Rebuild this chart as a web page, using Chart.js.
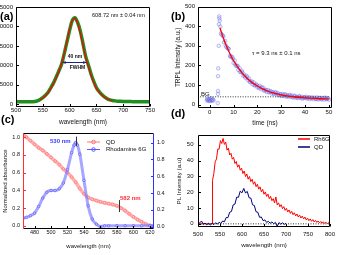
<!DOCTYPE html>
<html>
<head>
<meta charset="utf-8">
<script src="https://cdn.jsdelivr.net/npm/chart.js@4.4.1/dist/chart.umd.min.js"></script>
<style>
  body { margin: 0; background: #fff; }
  #wrap { position: relative; width: 339px; height: 255px; overflow: hidden; font-family: "Liberation Sans", Arial, sans-serif; }
  canvas { position: absolute; }
  .tag { position: absolute; font-size: 11px; font-weight: bold; line-height: 11px; color: #000; }
</style>
</head>
<body>
<div id="wrap">
  <canvas id="pa" width="170" height="127" style="left:0;top:0"></canvas>
  <canvas id="pb" width="169" height="127" style="left:170px;top:0"></canvas>
  <canvas id="pc" width="170" height="128" style="left:0;top:127px"></canvas>
  <canvas id="pd" width="169" height="128" style="left:170px;top:127px"></canvas>
  <div class="tag" style="left:0;top:11px">(a)</div>
  <div class="tag" style="left:171px;top:11px">(b)</div>
  <div class="tag" style="left:1px;top:114px">(c)</div>
  <div class="tag" style="left:171px;top:108px">(d)</div>
</div>
<script>
// (a) steady-state PL of the QDs
var emWave = [500, 505, 510, 515, 520, 525, 530, 535, 540, 545, 550, 555, 560, 565, 570, 575, 580, 585, 590, 595,
  600, 605, 610, 615, 620, 625, 630, 635, 640, 645, 650, 655, 660, 665, 670, 675, 680, 685, 690, 695,
  700, 705, 710, 715, 720, 725, 730, 735, 740, 745, 750];
var emCounts = [650, 650, 650, 650, 660, 670, 680, 720, 900, 1250, 1700, 2300, 3100, 4250, 5500, 7000, 8600, 10300, 13000, 16000,
  19000, 21500, 22200, 21000, 18800, 15600, 12300, 10100, 7800, 5900, 4300, 3300, 2500, 1900, 1450, 1150, 980, 880, 810, 770,
  740, 720, 700, 690, 680, 670, 660, 655, 650, 645, 640];
var emFitWave = [545, 550, 555, 560, 565, 570, 575, 580, 585, 590, 595, 600, 605, 610, 615, 620, 625, 630, 635, 640,
  645, 650, 655, 660, 665, 670, 675, 680];
var emFit = [1150, 1600, 2200, 3000, 4100, 5350, 6850, 8500, 10400, 13100, 16200, 19200, 21500, 22100, 20800, 18300, 15100, 12000, 9700, 7500,
  5600, 4100, 3100, 2350, 1800, 1400, 1120, 960];
var fwhmRange = [587, 631];
var fwhmLevel = 10900;
var aTicksX = [500, 550, 600, 650, 700, 750];
var aTicksY = [0, 5000, 10000, 15000, 20000, 25000];

// (b) time resolved PL
var trplTime = [-1.2, -1.0, -0.8, -0.6, -0.4, -0.2, 0.0, 0.2, 0.4, 0.6, 0.8, 1.0, 1.2, 1.4, 1.6,
  3.4, 3.5, 3.5, 3.5, 3.6, 3.8, 3.9, 4.0, 4.1, 4.2,
  4.5, 5.0, 5.5, 6.0, 6.5, 7.0, 7.5, 8.0, 8.5, 9.0, 9.5, 10.0,
  10.5, 11.0, 11.5, 12.0, 12.5, 13.0, 13.5, 14.0, 14.5, 15.0, 15.5, 16.0,
  16.5, 17.0, 17.5, 18.0, 18.5, 19.0, 19.5, 20.0, 20.5, 21.0, 21.5, 22.0,
  22.5, 23.0, 23.5, 24.0, 24.5, 25.0, 25.5, 26.0, 26.5, 27.0, 27.5, 28.0,
  28.5, 29.0, 29.5, 30.0, 30.5, 31.0, 31.5, 32.0, 32.5, 33.0, 33.5, 34.0,
  34.5, 35.0, 35.5, 36.0, 36.5, 37.0, 37.5, 38.0, 38.5, 39.0, 39.5, 40.0,
  40.5, 41.0, 41.5, 42.0, 42.5, 43.0, 43.5, 44.0, 44.5, 45.0, 45.5, 46.0,
  46.5, 47.0, 47.5, 48.0, 48.5, 49.0, 49.5, 50.0];
var trplCounts = [22, 30, 25, 19, 27, 21, 28, 18, 24, 32, 20, 26, 23, 27, 21,
  8, 55, 70, 145, 185, 300, 410, 450, 440, 428,
  398, 357, 352, 318, 325, 294, 289, 284, 249, 245, 243, 213,
  225, 198, 197, 177, 186, 167, 172, 148, 153, 137, 147, 126,
  133, 114, 118, 103, 113, 100, 104, 88, 92, 96, 79, 86,
  86, 71, 75, 64, 75, 66, 69, 56, 64, 55, 64, 53,
  60, 49, 53, 44, 54, 48, 53, 41, 48, 40, 49, 40,
  46, 36, 46, 36, 40, 33, 43, 35, 40, 31, 38, 34,
  40, 31, 37, 28, 35, 37, 28, 35, 29, 37, 26, 33,
  35, 27, 34, 26, 36, 28, 33, 25];
var trplTime2 = [4.75, 5.75, 6.75, 7.75, 8.75, 9.75, 10.75, 11.75, 12.75, 13.75, 14.75, 15.75, 16.75, 17.75, 18.75, 19.75,
  20.75, 21.75, 22.75, 23.75, 24.75, 25.75, 26.75, 27.75, 28.75, 29.75, 30.75, 31.75, 32.75, 33.75, 34.75, 35.75,
  36.75, 37.75, 38.75, 39.75, 40.75, 41.75, 42.75, 43.75, 44.75, 45.75, 46.75, 47.75, 48.75, 49.75];
var trplCounts2 = [363, 348, 302, 286, 245, 234, 206, 197, 167, 164, 144, 139, 118, 117, 98, 99,
  85, 88, 74, 74, 63, 66, 58, 60, 50, 53, 45, 50, 44, 47, 39, 43,
  37, 41, 33, 38, 34, 37, 32, 35, 29, 34, 29, 34, 30, 32];
var trplFitTime = [4.3, 5, 6, 7, 8, 9, 10, 12, 14, 16, 18, 20, 22, 24, 26, 28, 30, 33, 36, 40, 44, 48, 50];
var trplFit = [392, 366, 331, 300, 272, 247, 225, 187, 156, 131, 111, 95, 82, 71, 62, 56, 50, 44, 39, 35, 32, 30, 30];
var bgTime = [-4, 50];
var bgLevel = [40, 40];
var bTicksX = [0, 10, 20, 30, 40, 50];
var bTicksY = [0, 100, 200, 300, 400, 500];

// (c) normalized absorbance
var absWave = [466, 470, 475, 480, 485, 490, 495, 500, 505, 510, 515, 520, 525, 530, 535, 540, 545, 550, 555, 560,
  565, 570, 575, 580, 585, 590, 595, 600, 605, 610, 615, 620, 625];
var absQD = [1.03, 1.00, 0.96, 0.92, 0.88, 0.85, 0.81, 0.77, 0.73, 0.69, 0.64, 0.60, 0.55, 0.49, 0.42, 0.36, 0.32, 0.30, 0.285, 0.27,
  0.26, 0.25, 0.24, 0.225, 0.20, 0.17, 0.135, 0.10, 0.07, 0.045, 0.02, 0.005, 0.0];
var rhWave = [466, 470, 475, 480, 485, 490, 495, 500, 505, 510, 515, 520, 525, 528, 530, 532, 535, 540, 545, 550,
  555, 560, 565, 570, 580, 590, 600, 610, 620, 625];
var absRh = [0.10, 0.11, 0.13, 0.16, 0.24, 0.34, 0.41, 0.43, 0.43, 0.45, 0.52, 0.68, 0.88, 0.97, 1.0, 0.97, 0.86, 0.55, 0.25, 0.09,
  0.03, 0.0, 0.01, 0.01, 0.01, 0.01, 0.01, 0.01, 0.01, 0.01];
var cTicksX = [480, 500, 520, 540, 560, 580, 600, 620];
var cTicksY = [0, 0.2, 0.4, 0.6, 0.8, 1.0];

// (d) PL of Rh6G and QD
var plRhWave = [500, 510, 520, 530, 532,
  533, 536, 539, 542, 545, 548, 551, 554, 557, 560, 563, 566, 569, 572, 575, 578, 581, 584, 587, 590,
  593, 596, 599, 602, 605, 608, 611, 614, 617, 620, 623, 626, 629, 632, 635, 638, 641, 644, 647, 650,
  653, 656, 659, 662, 665, 668, 671, 674, 677, 680, 683, 686, 689, 692, 695, 698, 701, 704, 707, 710,
  713, 716, 719, 722, 725, 728, 731, 734, 737, 740, 743, 746, 749, 752, 755, 758, 761, 764, 767, 770,
  773, 776, 779, 782, 785, 788, 791, 794, 797, 800];
var plRh = [0, 0, 0, 0, 0.2,
  27.5, 31.8, 39.2, 41.0, 47.3, 47.2, 52.6, 50.8, 54.0, 50.2, 51.7, 46.6, 47.9, 43.5, 44.6, 40.9, 42.0, 38.1, 39.4, 35.8,
  37.3, 33.9, 35.2, 31.8, 33.4, 29.9, 31.5, 28.2, 29.9, 26.7, 28.2, 25.0, 26.6, 23.5, 25.0, 21.9, 23.4, 20.3, 21.8, 18.7,
  20.2, 17.3, 18.8, 15.9, 17.4, 14.6, 15.9, 13.2, 17.0, 12.0, 13.3, 10.8, 12.1, 9.6, 10.9, 8.5, 9.8, 7.5, 8.8, 6.6,
  7.9, 5.8, 7.0, 5.0, 6.2, 4.3, 5.5, 3.7, 4.9, 3.1, 4.3, 2.5, 3.6, 2.0, 3.1, 1.6, 2.7, 1.2, 2.2, 0.9,
  1.8, 0.6, 1.5, 0.4, 1.3, 0.2, 1.0, 0.1, 0.8, 0.2];
var plQDWave = [500, 504, 508, 512, 516, 520, 524, 528, 532, 536, 540, 544, 548, 552, 556, 560, 564, 568, 572, 576,
  580, 584, 588, 592, 596, 600, 604, 608, 612, 616, 620, 624, 628, 632, 636, 640, 644, 648, 652, 656,
  660, 664, 668, 672, 676, 680, 684, 688, 692, 696, 700];
var plQD = [-0.4, 0.6, 1.8, -0.3, 0.5, -0.6, 0.4, -0.8, 0.3, -0.5, 0.7, -0.2, 1.0, 0.2, 1.8, 1.3, 4.0, 3.9, 7.3, 7.8,
  12.0, 12.5, 16.9, 16.8, 20.7, 19.6, 22.4, 19.5, 20.5, 16.5, 16.3, 12.0, 11.6, 7.6, 7.3, 4.1, 4.3, 2.0, 2.5, 0.9,
  1.6, 0.4, 1.2, 0.1, 0.9, -1.6, 0.8, -0.2, 0.6, -0.3, 0.3];
var zeroWave = [500, 800];
var zeroLevel = [0, 0];
var dTicksX = [500, 550, 600, 650, 700, 750, 800];
var dTicksY = [0, 10, 20, 30, 40, 50];

Chart.defaults.font.family = '"Liberation Sans", Arial, sans-serif';
Chart.defaults.color = '#111';

function pts(xs, ys) {
  return xs.map((x, i) => ({ x: x, y: ys[i] }));
}

// fixed-size linear axis with a given tick list
function axis(pos, min, max, ticks, size, o) {
  o = o || {};
  return {
    type: 'linear', position: pos, min: min, max: max,
    afterBuildTicks: s => { s.ticks = ticks.map(v => ({ value: v })); },
    afterFit: s => { if (s.isHorizontal()) s.height = size; else s.width = size; },
    grid: { display: false, drawTicks: false },
    border: { display: false },
    ticks: {
      autoSkip: false, maxRotation: 0, padding: o.pad == null ? 1 : o.pad, color: '#111',
      font: { size: o.fs || 6 }, callback: o.fmt || (v => v)
    },
    title: {
      display: !!o.title, text: o.title || '', color: '#111', font: { size: o.tfs || 6.5 },
      padding: { top: o.tpad || 0, bottom: o.tpad || 0 }
    }
  };
}

// box around the plot with small inward ticks (Origin look)
var framePlugin = {
  id: 'frame',
  afterDatasetsDraw(chart, args, opts) {
    var ctx = chart.ctx, a = chart.chartArea, sc = chart.scales;
    var L = Math.round(a.left) + 0.5, R = Math.round(a.right) - 0.5;
    var T = Math.round(a.top) + 0.5, B = Math.round(a.bottom) - 0.5;
    var seg = (c, x1, y1, x2, y2) => {
      ctx.strokeStyle = c; ctx.beginPath(); ctx.moveTo(x1, y1); ctx.lineTo(x2, y2); ctx.stroke();
    };
    ctx.save();
    ctx.lineWidth = 1;
    seg(opts.top || '#000', L, T, R, T);
    seg(opts.bottom || '#000', L, B, R, B);
    seg(opts.left || '#000', L, T, L, B);
    seg(opts.right || '#000', R, T, R, B);
    sc.x.ticks.forEach(t => {
      var p = Math.round(sc.x.getPixelForValue(t.value)) + 0.5;
      seg(opts.bottom || '#000', p, B, p, B - 2.5);
    });
    sc.y.ticks.forEach(t => {
      var p = Math.round(sc.y.getPixelForValue(t.value)) + 0.5;
      seg(opts.left || '#000', L, p, L + 2.5, p);
    });
    if (sc.y2) sc.y2.ticks.forEach(t => {
      var p = Math.round(sc.y2.getPixelForValue(t.value)) + 0.5;
      seg(opts.right || '#000', R, p, R - 2.5, p);
    });
    ctx.restore();
  }
};

function base(padding, scales, frame) {
  return {
    responsive: false, animation: false, devicePixelRatio: 1,
    layout: { padding: padding },
    plugins: { legend: { display: false }, tooltip: { enabled: false }, frame: frame || {} },
    scales: scales
  };
}

function font(size, bold) {
  return (bold ? 'bold ' : '') + size + 'px "Liberation Sans", Arial, sans-serif';
}

// ---------- (a) ----------
new Chart(document.getElementById('pa'), {
  type: 'line',
  data: {
    datasets: [
      { data: pts(emFitWave, emFit), borderColor: '#ff0000', borderWidth: 1.2, pointRadius: 0, cubicInterpolationMode: 'monotone', order: 0 },
      { data: pts(emWave, emCounts), borderColor: '#1f8f1f', borderWidth: 3.5, pointRadius: 0, cubicInterpolationMode: 'monotone', order: 1 }
    ]
  },
  options: base({ top: 6, right: 20, left: 0, bottom: 0 }, {
    x: axis('bottom', 500, 750, aTicksX, 20, { pad: 0, title: 'wavelength (nm)', tpad: 1 }),
    y: axis('left', -690, 25080, aTicksY, 16, { pad: 3 })
  }),
  plugins: [framePlugin, {
    id: 'notesA',
    afterDraw(chart) {
      var ctx = chart.ctx, x = chart.scales.x, y = chart.scales.y;
      ctx.save();
      ctx.fillStyle = '#111';
      ctx.textBaseline = 'middle';
      ctx.font = font(5.6);
      ctx.fillText('608.72 nm \u00b1 0.04 nm', 92, 15);
      var yy = Math.round(y.getPixelForValue(fwhmLevel)) + 0.5;
      var x1 = x.getPixelForValue(fwhmRange[0]), x2 = x.getPixelForValue(fwhmRange[1]);
      ctx.strokeStyle = '#1a237e'; ctx.fillStyle = '#1a237e'; ctx.lineWidth = 1;
      ctx.beginPath(); ctx.moveTo(x1, yy); ctx.lineTo(x2, yy); ctx.stroke();
      ctx.beginPath(); ctx.moveTo(x1, yy); ctx.lineTo(x1 + 3, yy - 1.6); ctx.lineTo(x1 + 3, yy + 1.6); ctx.fill();
      ctx.beginPath(); ctx.moveTo(x2, yy); ctx.lineTo(x2 - 3, yy - 1.6); ctx.lineTo(x2 - 3, yy + 1.6); ctx.fill();
      ctx.fillStyle = '#111'; ctx.textAlign = 'center'; ctx.font = font(5, true);
      ctx.fillText('40 nm', 75, 56.5);
      ctx.fillText('FWHM', 77.5, 67.5);
      ctx.restore();
    }
  }]
});

// ---------- (b) ----------
new Chart(document.getElementById('pb'), {
  type: 'scatter',
  data: {
    datasets: [
      { type: 'line', data: pts(trplFitTime, trplFit), borderColor: '#ff0000', borderWidth: 1.3, pointRadius: 0, cubicInterpolationMode: 'monotone', order: 0 },
      { type: 'line', data: pts(bgTime, bgLevel), borderColor: '#333', borderWidth: 1, borderDash: [1, 1.5], pointRadius: 0, order: 1 },
      { data: pts(trplTime, trplCounts), pointRadius: 1.8, borderWidth: 0.7, borderColor: 'rgba(95,95,225,0.55)', backgroundColor: 'rgba(170,170,245,0.2)', order: 2 },
      { data: pts(trplTime2, trplCounts2), pointRadius: 1.8, borderWidth: 0.7, borderColor: 'rgba(95,95,225,0.55)', backgroundColor: 'rgba(170,170,245,0.2)', order: 3 }
    ]
  },
  options: base({ top: 6, right: 7, left: 0, bottom: 0 }, {
    x: axis('bottom', -4.9, 51.3, bTicksX, 19, { pad: 1, title: 'time (ns)', tpad: 0 }),
    y: axis('left', -17, 500, bTicksY, 28, { pad: 3, title: 'TRPL Intensity (a.u.)', tpad: 4 })
  }),
  plugins: [framePlugin, {
    id: 'notesB',
    afterDraw(chart) {
      var ctx = chart.ctx;
      ctx.save();
      ctx.fillStyle = '#111';
      ctx.textBaseline = 'middle';
      ctx.font = font(6);
      ctx.fillText('\u03c4 = 9.3 ns \u00b1 0.1 ns', 82, 53);
      ctx.fillText('BG', 31, 94);
      ctx.restore();
    }
  }]
});

// ---------- (c) ----------
new Chart(document.getElementById('pc'), {
  type: 'line',
  data: {
    datasets: [
      { data: pts(absWave, absQD), yAxisID: 'y', borderColor: 'rgba(255,150,150,0.75)', borderWidth: 3.5,
        pointRadius: 1.4, pointBorderWidth: 0.7, pointBorderColor: '#ff6f6f', pointBackgroundColor: 'rgba(255,220,220,0.5)',
        cubicInterpolationMode: 'monotone', order: 1 },
      { data: pts(rhWave, absRh), yAxisID: 'y2', borderColor: 'rgba(120,120,255,0.65)', borderWidth: 3,
        pointRadius: 1.3, pointBorderWidth: 0.7, pointBorderColor: '#5a5aff', pointBackgroundColor: 'rgba(220,220,255,0.5)',
        cubicInterpolationMode: 'monotone', order: 0 }
    ]
  },
  options: base({ top: 6, right: 0, left: 0, bottom: 0 }, {
    x: axis('bottom', 466, 625, cTicksX, 26, { pad: 0, fs: 5.5, title: 'wavelength (nm)', tfs: 6, tpad: 5 }),
    y: axis('left', -0.036, 1.043, cTicksY, 23, { pad: 3, fs: 5.5, fmt: v => v.toFixed(1), title: 'Normalized absorbance', tfs: 6, tpad: 2 }),
    y2: axis('right', -0.028, 1.11, cTicksY, 16, { pad: 3, fs: 5.5, fmt: v => v.toFixed(1) })
  }, { left: '#ff3030', right: '#3030ff', top: '#000', bottom: '#000' }),
  plugins: [framePlugin, {
    id: 'notesC',
    afterDraw(chart) {
      var ctx = chart.ctx, x = chart.scales.x, y = chart.scales.y, y2 = chart.scales.y2;
      ctx.save();
      ctx.lineWidth = 1;
      ctx.strokeStyle = '#333';
      var p = Math.round(x.getPixelForValue(530)) + 0.5;
      ctx.beginPath(); ctx.moveTo(p, y2.getPixelForValue(1.07)); ctx.lineTo(p, y2.getPixelForValue(0.96)); ctx.stroke();
      p = Math.round(x.getPixelForValue(582)) + 0.5;
      ctx.beginPath(); ctx.moveTo(p, y.getPixelForValue(0.29)); ctx.lineTo(p, y.getPixelForValue(0.155)); ctx.stroke();
      ctx.textBaseline = 'middle';
      ctx.font = font(6, true);
      ctx.fillStyle = '#3a3aff';
      ctx.fillText('530 nm', 50, 14);
      ctx.fillStyle = '#ff3030';
      ctx.fillText('582 nm', 120, 71);
      // legend
      ctx.font = font(6);
      var rows = [['QD', '#ff7070', 15], ['Rhodamine 6G', '#5a5aff', 22.5]];
      rows.forEach(r => {
        ctx.strokeStyle = r[1];
        ctx.beginPath(); ctx.moveTo(87, r[2]); ctx.lineTo(100, r[2]); ctx.stroke();
        ctx.beginPath(); ctx.arc(93.5, r[2], 1.8, 0, Math.PI * 2); ctx.stroke();
        ctx.fillStyle = '#111';
        ctx.fillText(r[0], 106, r[2]);
      });
      ctx.restore();
    }
  }]
});

// ---------- (d) ----------
new Chart(document.getElementById('pd'), {
  type: 'line',
  data: {
    datasets: [
      { data: pts(zeroWave, zeroLevel), borderColor: '#333', borderWidth: 1, borderDash: [1, 1.5], pointRadius: 0, order: 2 },
      { data: pts(plRhWave, plRh), borderColor: '#ff0000', borderWidth: 1, pointRadius: 0, order: 1 },
      { data: pts(plQDWave, plQD), borderColor: '#00007a', borderWidth: 1, pointRadius: 0, order: 0 }
    ]
  },
  options: base({ top: 5, right: 6, left: 0, bottom: 0 }, {
    x: axis('bottom', 500, 800, dTicksX, 28, { pad: 4, title: 'wavelength (nm)', tfs: 6.2, tpad: 6 }),
    y: axis('left', -2, 56.1, dTicksY, 28, { pad: 4.5, title: 'PL Intensity (a.u)', tfs: 6.2, tpad: 6 })
  }),
  plugins: [framePlugin, {
    id: 'notesD',
    afterDraw(chart) {
      var ctx = chart.ctx;
      ctx.save();
      ctx.lineWidth = 1.5;
      ctx.textBaseline = 'middle';
      ctx.font = font(6);
      var rows = [['Rh6G', '#ff0000', 12], ['QD', '#00007a', 20]];
      rows.forEach(r => {
        ctx.strokeStyle = r[1];
        ctx.beginPath(); ctx.moveTo(128, r[2]); ctx.lineTo(140, r[2]); ctx.stroke();
        ctx.fillStyle = '#111';
        ctx.fillText(r[0], 144, r[2]);
      });
      ctx.restore();
    }
  }]
});
</script>
</body>
</html>
